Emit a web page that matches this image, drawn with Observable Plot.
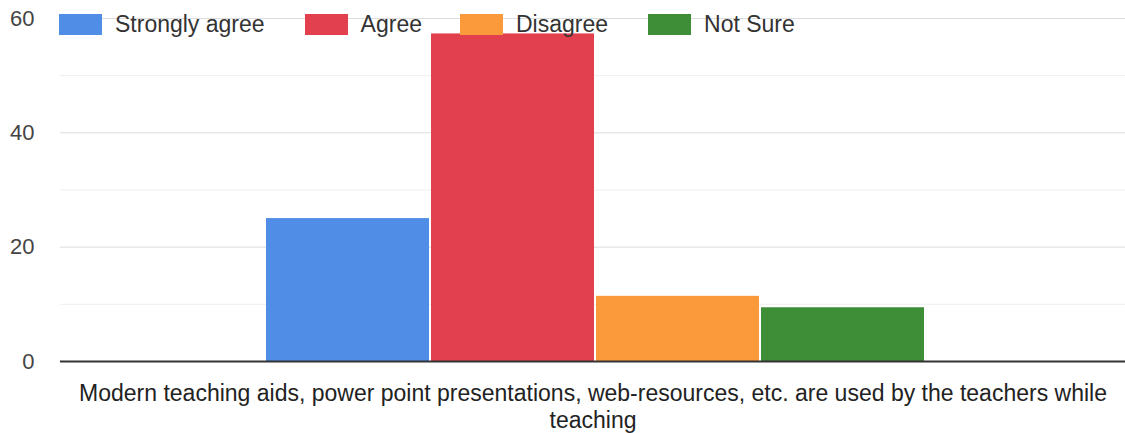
<!DOCTYPE html>
<html>
<head>
<meta charset="utf-8">
<script src="https://cdn.jsdelivr.net/npm/d3@7"></script>
<script src="https://cdn.jsdelivr.net/npm/@observablehq/plot@0.6"></script>
<style>
  body { margin: 0; background: #fff; }
  #wrap { position: relative; width: 1125px; height: 433px; font-family: "Liberation Sans", Arial, sans-serif; }
  #legend { position: absolute; left: 59px; top: 14px; display: flex; align-items: center; font-size: 23px; color: #333; line-height: 21px; }
  .item { display: flex; align-items: center; }
  .sw { width: 43px; height: 21px; margin-right: 13px; }
</style>
</head>
<body>
<div id="wrap"></div>
<script>
const category = "Modern teaching aids, power point presentations, web-resources, etc. are used by the teachers while teaching";
const series = ["Strongly agree", "Agree", "Disagree", "Not Sure"];
const values = [25, 57.3, 11.4, 9.4];
const colors = ["#4f8de6", "#e2404e", "#fb9a3a", "#3e8d37"];
const majorTicks = [0, 20, 40, 60];
const minorTicks = [10, 30, 50];

const data = series.map((s, i) => ({series: s, value: values[i], category}));

const chart = Plot.plot({
  width: 1125,
  height: 433,
  marginLeft: 60,
  marginRight: 0,
  marginTop: 18,
  marginBottom: 72,
  style: {fontFamily: "Liberation Sans, Arial, sans-serif", fontSize: "22px", color: "#444", background: "#fff"},
  x: {domain: series, paddingInner: 0.012, paddingOuter: 1.214, align: 0.506, axis: null},
  y: {domain: [0, 60], ticks: majorTicks, tickSize: 0, tickPadding: 26, label: null},
  color: {domain: series, range: colors},
  marks: [
    Plot.ruleY(minorTicks, {stroke: "#eeeeee", strokeWidth: 1}),
    Plot.ruleY(majorTicks.filter(d => d > 0), {stroke: "#dcdcdc", strokeWidth: 1}),
    Plot.barY(data, {x: "series", y: "value", fill: "series"}),
    Plot.ruleY([0], {stroke: "#333", strokeWidth: 2}),
    Plot.text([category], {text: d => d, frameAnchor: "bottom", lineAnchor: "top", dy: 21, lineWidth: 51, lineHeight: 1.15, fontSize: 23, fill: "#222"})
  ]
});

const wrap = document.getElementById("wrap");
wrap.appendChild(chart);

const legend = document.createElement("div");
legend.id = "legend";
const gaps = [40, 38, 40, 0];
series.forEach((s, i) => {
  const it = document.createElement("div");
  it.className = "item";
  it.style.marginRight = gaps[i] + "px";
  const sw = document.createElement("div");
  sw.className = "sw";
  sw.style.background = colors[i];
  const t = document.createElement("span");
  t.textContent = s;
  it.appendChild(sw);
  it.appendChild(t);
  legend.appendChild(it);
});
wrap.appendChild(legend);
</script>
</body>
</html>
